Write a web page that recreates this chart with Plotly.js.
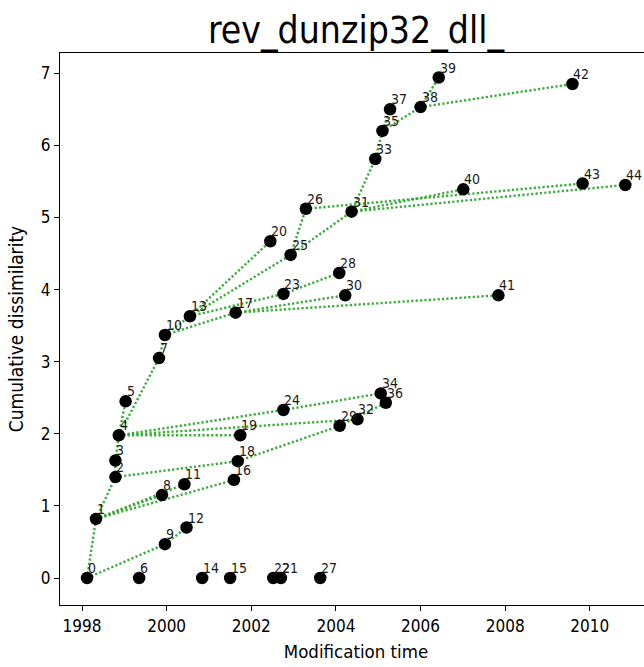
<!DOCTYPE html>
<html><head><meta charset="utf-8">
<script src="https://cdn.plot.ly/plotly-3.0.1.min.js"></script>
<style>html,body{margin:0;padding:0;overflow:hidden;background:#fff}#chart{width:660px;height:667px}</style>
</head><body><div id="chart"></div>
<script>
const nodeIds = [0,1,2,3,4,5,6,7,8,9,10,11,12,13,14,15,16,17,18,19,20,21,22,23,24,25,26,27,28,29,30,31,32,33,34,35,36,37,38,39,40,41,42,43,44];
const modTime = [1998.12,1998.33,1998.79,1998.79,1998.87,1999.03,1999.35,1999.82,1999.89,1999.96,
  1999.96,2000.42,2000.47,2000.55,2000.84,2001.50,2001.59,2001.63,2001.68,2001.74,
  2002.45,2002.70,2002.52,2002.76,2002.76,2002.93,2003.29,2003.63,2004.08,2004.09,
  2004.22,2004.37,2004.51,2004.93,2005.06,2005.10,2005.18,2005.28,2006.00,2006.43,
  2007.01,2007.84,2009.59,2009.83,2010.84];
const dissim = [0,0.82,1.40,1.63,1.98,2.45,0,3.05,1.15,0.47,
  3.37,1.30,0.70,3.63,0,0,1.36,3.68,1.62,1.98,
  4.67,0,0,3.94,2.33,4.48,5.12,0,4.23,2.11,
  3.92,5.08,2.20,5.81,2.56,6.20,2.43,6.50,6.53,6.94,
  5.39,3.92,6.85,5.47,5.45];
const edgeFrom = [0,0,9,1,2,3,4,4,7,1,1,1,2,4,4,4,18,29,24,10,10,13,13,25,25,13,23,17,17,31,33,35,35,38,38,31,26,31];
const edgeTo   = [1,9,12,2,3,4,5,7,10,8,11,16,18,19,24,32,29,36,34,13,17,20,25,26,31,23,28,30,41,33,35,37,38,39,42,40,43,44];
const xTickVals = [1998,2000,2002,2004,2006,2008,2010];
const yTickVals = [0,1,2,3,4,5,6,7];
const chartTitle = 'rev_dunzip32_dll_';
const xLabel = 'Modification time';
const yLabel = 'Cumulative dissimilarity';

const FONT = '"DejaVu Sans Condensed", "Liberation Sans Narrow", "DejaVu Sans", sans-serif';

const ex = [], ey = [];
for (let i = 0; i < edgeFrom.length; i++) {
  ex.push(modTime[edgeFrom[i]], modTime[edgeTo[i]], null);
  ey.push(dissim[edgeFrom[i]], dissim[edgeTo[i]], null);
}

const traces = [
  {x: ex, y: ey, mode: 'lines', type: 'scatter', hoverinfo: 'skip',
   line: {color: 'rgb(55,172,55)', width: 2.4, dash: '2.2px,2.2px'}},
  {x: modTime, y: dissim, mode: 'markers', type: 'scatter',
   marker: {color: '#000', size: 12.5}}
];

const annotations = nodeIds.map((id, i) => ({
  x: modTime[i], y: dissim[i], xref: 'x', yref: 'y', text: String(id),
  showarrow: false, xanchor: 'left', yanchor: 'bottom', xshift: 0, yshift: 1,
  font: {family: FONT, size: 14, color: '#1a1a1a'}, borderpad: 0
}));

const layout = {
  width: 660, height: 667,
  margin: {l: 60, r: 8, t: 53, b: 62},
  paper_bgcolor: '#fff', plot_bgcolor: '#fff',
  showlegend: false,
  title: {text: chartTitle, font: {family: FONT, size: 37, color: '#000'}, x: 0.5, xref: 'paper', y: 0.975, yanchor: 'top'},
  xaxis: {range: [1997.48, 2011.47], tickvals: xTickVals, ticktext: xTickVals.map(String),
    showgrid: false, zeroline: false, showline: true, mirror: true, linecolor: '#000', linewidth: 1.2,
    ticks: 'outside', ticklen: 5, tickwidth: 1, tickcolor: '#000',
    tickfont: {family: FONT, size: 17, color: '#000'},
    title: {text: xLabel, font: {family: FONT, size: 18.5, color: '#000'}, standoff: 10}},
  yaxis: {range: [-0.374, 7.28], tickvals: yTickVals, ticktext: yTickVals.map(String),
    showgrid: false, zeroline: false, showline: true, mirror: true, linecolor: '#000', linewidth: 1.2,
    ticks: 'outside', ticklen: 5, tickwidth: 1, tickcolor: '#000',
    tickfont: {family: FONT, size: 17, color: '#000'},
    title: {text: yLabel, font: {family: FONT, size: 19, color: '#000'}, standoff: 12}},
  annotations: annotations
};

Plotly.newPlot('chart', traces, layout, {displayModeBar: false, staticPlot: true});
</script>
</body></html>
